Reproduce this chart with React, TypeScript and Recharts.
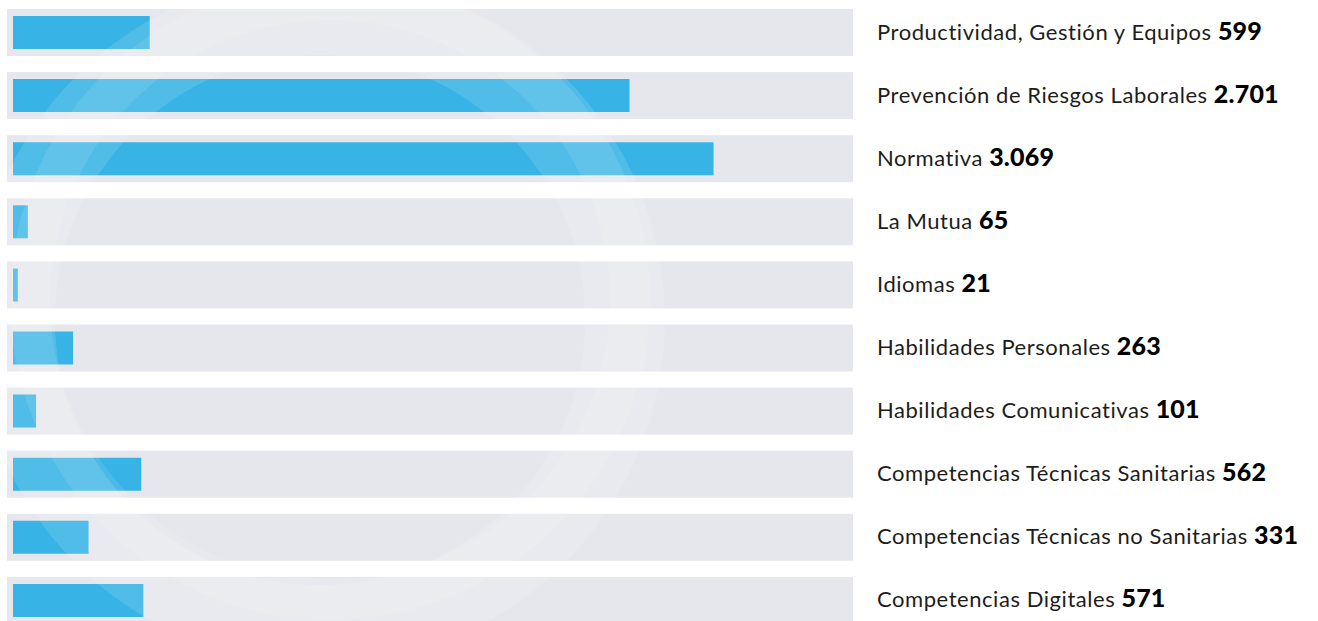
import { BarChart, Bar, XAxis, YAxis } from 'recharts'

const categories = [
  'Productividad, Gestión y Equipos',
  'Prevención de Riesgos Laborales',
  'Normativa',
  'La Mutua',
  'Idiomas',
  'Habilidades Personales',
  'Habilidades Comunicativas',
  'Competencias Técnicas Sanitarias',
  'Competencias Técnicas no Sanitarias',
  'Competencias Digitales',
]
const values = [599, 2701, 3069, 65, 21, 263, 101, 562, 331, 571]

const data = categories.map((name, i) => ({ name, value: values[i] }))

const BAR = '#38b3e5'
const TRACK = '#e6e7ed'
const FONT = 'Lato, "Open Sans", sans-serif'

// spanish thousands separator, also for 4 digit numbers
const fmt = (v: number) => String(v).replace(/\B(?=(\d{3})+(?!\d))/g, '.')

function Track(props: any) {
  const { x, y, width, height } = props
  return <rect x={x - 6} y={y - 7} width={width + 6} height={height + 14} fill={TRACK} />
}

function Label(props: any) {
  const { x, y, payload, index } = props
  return (
    <text x={x} y={y} dy={7} textAnchor="start" fontFamily={FONT} fontSize={22} fill="#1d1d1b">
      <tspan letterSpacing={0.55}>{payload.value} </tspan>
      <tspan fontWeight={900} fontSize={25} fill="#000" letterSpacing={0.2}>{fmt(values[index])}</tspan>
    </text>
  )
}

export default function App() {
  return (
    <div style={{ position: 'absolute', left: 0, top: 0, width: 1318, height: 621, overflow: 'hidden', background: '#fff' }}>
      <BarChart width={1318} height={632} data={data} layout="vertical" margin={{ top: 1, right: 0, bottom: 0, left: 13 }}>
        <XAxis type="number" domain={[0, 3680]} hide />
        <YAxis
          type="category"
          dataKey="name"
          orientation="right"
          width={465}
          axisLine={false}
          tickLine={false}
          tickMargin={18}
          tick={<Label />}
        />
        <Bar dataKey="value" fill={BAR} barSize={33} background={<Track />} isAnimationActive={false} />
      </BarChart>
      <svg width={1318} height={621} style={{ position: 'absolute', left: 0, top: 0, pointerEvents: 'none' }}>
        <path
          d="M -25 320 a 345 345 0 1 0 690 0 a 345 345 0 1 0 -690 0 Z M 55 320 a 265 265 0 1 1 530 0 a 265 265 0 1 1 -530 0 Z"
          fill="#fff"
          fillOpacity={0.12}
          fillRule="evenodd"
        />
        <circle cx={330} cy={300} r={300} fill="none" stroke="#fff" strokeOpacity={0.1} strokeWidth={40} />
      </svg>
    </div>
  )
}
